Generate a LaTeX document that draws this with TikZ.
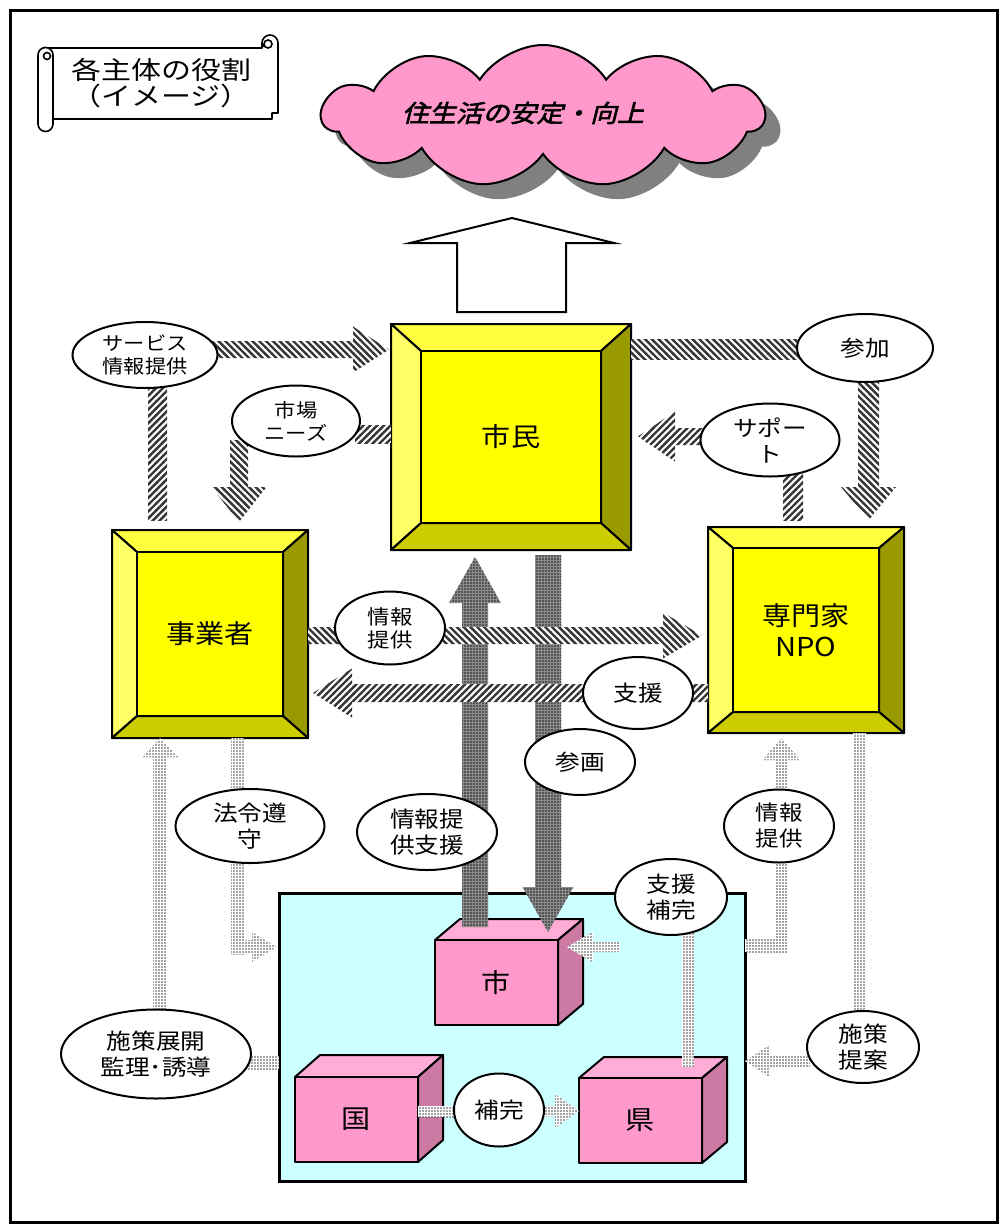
\documentclass[tikz,border=0pt]{standalone}
\usepackage{fontspec}
\setmainfont{Noto Sans CJK JP}[FakeStretch=1.12]
\newfontfamily\cloudfont{Noto Sans CJK JP}[FakeStretch=1.12,FakeSlant=0.25,FakeBold=2.5]
\newfontfamily\widefont{Noto Sans CJK JP}[FakeStretch=1.2]
\usetikzlibrary{patterns,shapes.symbols,shapes.geometric}

\pgfdeclarepatternformonly{stripeNE}{\pgfqpoint{-1pt}{-1pt}}{\pgfqpoint{4.5pt}{4.5pt}}{\pgfqpoint{3.4pt}{3.4pt}}{%
  \pgfsetlinewidth{1.2pt}\pgfpathmoveto{\pgfqpoint{-0.2pt}{-0.2pt}}\pgfpathlineto{\pgfqpoint{3.6pt}{3.6pt}}\pgfusepath{stroke}}
\pgfdeclarepatternformonly{stripeNW}{\pgfqpoint{-1pt}{-1pt}}{\pgfqpoint{4.5pt}{4.5pt}}{\pgfqpoint{3.4pt}{3.4pt}}{%
  \pgfsetlinewidth{1.2pt}\pgfpathmoveto{\pgfqpoint{-0.2pt}{3.6pt}}\pgfpathlineto{\pgfqpoint{3.6pt}{-0.2pt}}\pgfusepath{stroke}}
\pgfdeclarepatternformonly{fdots}{\pgfqpoint{-0.5pt}{-0.5pt}}{\pgfqpoint{0.5pt}{0.5pt}}{\pgfqpoint{1.5pt}{1.5pt}}{%
  \pgfpathcircle{\pgfqpoint{0pt}{0pt}}{0.45pt}\pgfusepath{fill}}

\definecolor{bvC}{HTML}{FFFF00}
\definecolor{bvT}{HTML}{FFFF40}
\definecolor{bvL}{HTML}{FFFF66}
\definecolor{bvB}{HTML}{CCCC00}
\definecolor{bvR}{HTML}{999900}
\definecolor{cbF}{HTML}{FF99CC}
\definecolor{cbT}{HTML}{FFADD6}
\definecolor{cbS}{HTML}{CC7AA3}
\definecolor{cyanbg}{HTML}{CCFFFF}
\definecolor{cloudpink}{HTML}{FF99CC}
\definecolor{shadowgray}{HTML}{808080}

\newcommand\fsS{\fontsize{9.5}{11.5}\selectfont}
\newcommand\fsM{\fontsize{11}{13}\selectfont}
\newcommand\fsL{\fontsize{13}{15.5}\selectfont}

% block arrows: style, start, tip, centre, half shaft, half head, head length
\newcommand\arR[7]{\path[#1] (#2,#4-#5) -- (#3-#7,#4-#5) -- (#3-#7,#4-#6) -- (#3,#4) -- (#3-#7,#4+#6) -- (#3-#7,#4+#5) -- (#2,#4+#5) -- cycle;}
\newcommand\arL[7]{\path[#1] (#2,#4-#5) -- (#3+#7,#4-#5) -- (#3+#7,#4-#6) -- (#3,#4) -- (#3+#7,#4+#6) -- (#3+#7,#4+#5) -- (#2,#4+#5) -- cycle;}
\newcommand\arU[7]{\path[#1] (#4-#5,#2) -- (#4-#5,#3+#7) -- (#4-#6,#3+#7) -- (#4,#3) -- (#4+#6,#3+#7) -- (#4+#5,#3+#7) -- (#4+#5,#2) -- cycle;}
\newcommand\arD[7]{\path[#1] (#4-#5,#2) -- (#4-#5,#3-#7) -- (#4-#6,#3-#7) -- (#4,#3) -- (#4+#6,#3-#7) -- (#4+#5,#3-#7) -- (#4+#5,#2) -- cycle;}

% bevel box: name, x1, y1, x2, y2, bw, bh, text
\newcommand\bevelbox[8]{%
  \path[bvline, fill=bvT] (#2,#3) -- (#4,#3) -- (#4-#6,#3+#7) -- (#2+#6,#3+#7) -- cycle;
  \path[bvline, fill=bvL] (#2,#3) -- (#2+#6,#3+#7) -- (#2+#6,#5-#7) -- (#2,#5) -- cycle;
  \path[bvline, fill=bvR] (#4,#3) -- (#4,#5) -- (#4-#6,#5-#7) -- (#4-#6,#3+#7) -- cycle;
  \path[bvline, fill=bvB] (#2,#5) -- (#4,#5) -- (#4-#6,#5-#7) -- (#2+#6,#5-#7) -- cycle;
  \path[bvline, fill=bvC] (#2+#6,#3+#7) rectangle (#4-#6,#5-#7);
  \node[font=\fsL, align=center, inner sep=0pt] (#1) at ({(#2+#4)/2},{(#3+#5)/2}) {#8};}

% cube: name, x1, y1, x2, y2 (front face), dx, dy, text
\newcommand\cubebox[8]{%
  \path[bvline, fill=cbT] (#2,#3) -- (#2+#6,#3-#7) -- (#4+#6,#3-#7) -- (#4,#3) -- cycle;
  \path[bvline, fill=cbS] (#4,#3) -- (#4+#6,#3-#7) -- (#4+#6,#5-#7) -- (#4,#5) -- cycle;
  \path[bvline, fill=cbF] (#2,#3) rectangle (#4,#5);
  \node[font=\fsL, inner sep=0pt] (#1) at ({(#2+#4)/2},{(#3+#5)/2}) {#8};}

\tikzset{
  sne/.style={preaction={fill=white}, pattern=stripeNE, pattern color=black!78},
  snw/.style={preaction={fill=white}, pattern=stripeNW, pattern color=black!78},
  dt/.style={preaction={fill=white}, pattern=fdots, pattern color=black!72},
  dk/.style={preaction={fill=black!45}, pattern=fdots, pattern color=black!90},
  bvline/.style={draw=black, line width=1pt, line join=round},
  ell/.style={ellipse, draw=black, line width=1pt, fill=white, inner sep=0pt, align=center, font=\fsM},
}

\begin{document}
\begin{tikzpicture}[x=0.5pt, y=-0.5pt]
\useasboundingbox (0,0) rectangle (1005,1231);
\fill[white] (0,0) rectangle (1005,1231);
\draw[line width=1.5pt] (10,10) rectangle (997,1222);

% scroll
\draw[line width=0.8pt, fill=white, line join=round] (45,48) -- (262,48) -- (262,43) arc[start angle=180, end angle=360, radius=8] -- (278,113) -- (272,113) -- (272,119) -- (52,119);
\draw[line width=0.8pt] (268,44) circle[radius=4];
\draw[line width=0.8pt] (264,47) -- (264,44);
\draw[line width=0.8pt, fill=white] (38,55) arc[start angle=180, end angle=360, radius=7.5] -- (53,124) arc[start angle=0, end angle=180, radius=7.5] -- cycle;
\draw[line width=0.8pt] (47,56) circle[radius=3.5];
\node[font=\widefont\fontsize{12.5}{13}\selectfont, align=center, inner sep=0pt] (title) at (161,83) {各主体の役割\\（イメージ）};

% cloud
\node[cloud, cloud puffs=11, cloud puff arc=115, cloud ignores aspect, fill=shadowgray, minimum width=221pt, minimum height=71pt, inner sep=0pt] (cloudshadow) at (558,131) {};
\node[cloud, cloud puffs=11, cloud puff arc=115, cloud ignores aspect, draw=black, line width=1pt, fill=cloudpink, minimum width=221pt, minimum height=71pt, inner sep=0pt] (cloud) at (543,116) {};
\node[font=\cloudfont\fontsize{12}{14}\selectfont, inner sep=0pt] (goal) at (523,113) {住生活の安定・向上};

% big outline arrow
\draw[line width=1pt, fill=white, line join=miter] (457,312) -- (457,243) -- (410,243) -- (512,218) -- (614,243) -- (566,243) -- (566,312) -- cycle;

% city area
\draw[line width=1.5pt, fill=cyanbg] (279,893) rectangle (745,1181);

% cubes
\cubebox{shi}{435}{940}{558}{1025}{25}{21}{市}
\cubebox{kuni}{295}{1077}{418}{1162}{25}{22}{国}
\cubebox{ken}{579}{1078}{702}{1163}{25}{21}{県}

% bevel boxes
\bevelbox{shimin}{391}{324}{631}{550}{30}{27}{市民}
\bevelbox{jigyo}{112}{530}{308}{738}{25}{22}{事業者}
\bevelbox{senmon}{708}{527}{904}{733}{25}{21}{専門家\\NPO}

% central dark arrows
\arU{dk}{927}{557}{475}{13}{26}{46}
\arD{dk}{555}{932}{548}{13}{25.5}{45}

% striped arrows
\path[sne] (148,385) rectangle (167,520);
\arR{snw}{210}{389}{349.5}{8.5}{23}{36}
\path[sne] (355,425) rectangle (391,443);
\arD{snw}{440}{522}{239}{9}{27.5}{35}
\path[snw] (631,339) rectangle (800,359);
\arD{snw}{378}{520}{868.5}{10.5}{27.5}{33}
\path[sne] (783,470) rectangle (803,520);
\arL{sne}{705}{638}{436.5}{8.5}{25}{37}
\arR{snw}{308}{702}{635.5}{8.5}{23}{39}
\arL{sne}{708}{313}{693}{9}{24.5}{39}

% dotted arrows
\arU{dt}{1015}{738}{160}{7}{18}{19}
\path[dt] (245,1056) rectangle (279,1069);
\path[dt] (231,738) rectangle (244,954);
\arR{dt}{231}{277}{947}{7}{15}{25}
\path[dt] (745,939) rectangle (788,952);
\arU{dt}{952}{738}{781.5}{6.5}{19}{22}
\path[dt] (853,733) rectangle (866,1015);
\arL{dt}{810}{745}{1061}{6}{16.5}{25}
\path[dt] (682,930) rectangle (694,1067);
\arL{dt}{620}{567}{947}{5}{15.5}{26}
\path[dt] (418,1106) rectangle (458,1117);
\arR{dt}{540}{579}{1111}{5.5}{17}{24}

% ellipses
\node[ell, font=\fsS, minimum width=72.5pt, minimum height=33pt] (eServ) at (145,355) {サービス\\情報提供};
\node[ell, font=\fsS, minimum width=64pt, minimum height=35.5pt] (eIchiba) at (296,421) {市場\\ニーズ};
\node[ell, minimum width=68pt, minimum height=34pt] (eSanka) at (865,348) {参加};
\node[ell, minimum width=69.5pt, minimum height=36.5pt] (eSupport) at (770,440) {サポー\\ト};
\node[ell, font=\fontsize{10}{11.5}\selectfont, minimum width=55pt, minimum height=36.5pt] (eJoho1) at (390,628) {情報\\提供};
\node[ell, minimum width=55pt, minimum height=36pt] (eShien) at (638,693) {支援};
\node[ell, minimum width=55pt, minimum height=33pt] (eSankaku) at (580,762) {参画};
\node[ell, minimum width=74.5pt, minimum height=37pt] (eHorei) at (250,826) {法令遵\\守};
\node[ell, minimum width=70pt, minimum height=38pt] (eJShien) at (427,832) {情報提\\供支援};
\node[ell, font=\fontsize{10.5}{13}\selectfont, minimum width=55pt, minimum height=36.5pt] (eJoho2) at (779,826) {情報\\提供};
\node[ell, minimum width=56pt, minimum height=36pt] (eShisaku) at (863,1047) {施策\\提案};
\node[ell, minimum width=95pt, minimum height=44.5pt] (eTenkai) at (156,1054) {施策展開\\監理･誘導};
\node[ell, minimum width=56pt, minimum height=38pt] (eHokan1) at (671,897) {支援\\補完};
\node[ell, minimum width=45pt, minimum height=36.5pt] (eHokan2) at (499,1110) {補完};
\end{tikzpicture}
\end{document}
